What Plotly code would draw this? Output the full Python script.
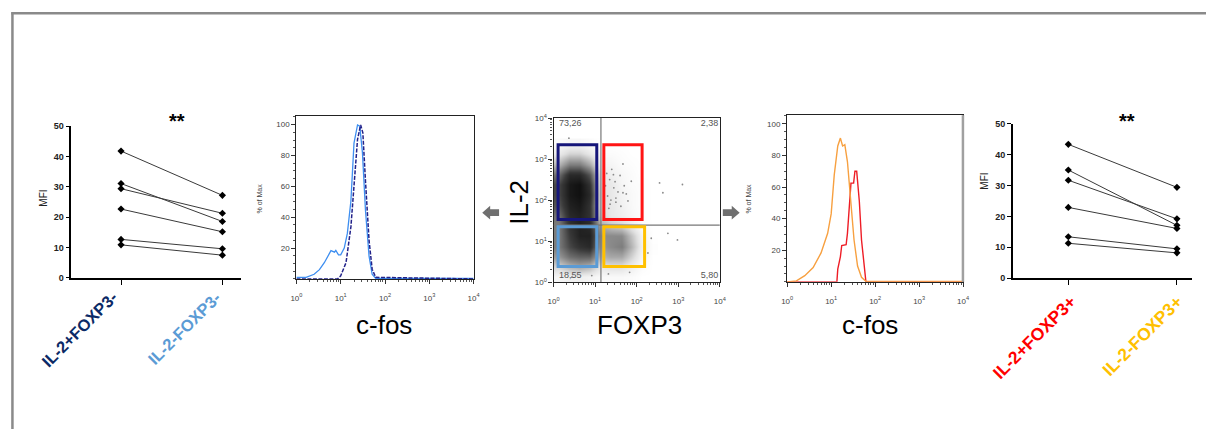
import plotly.graph_objects as go

W, H = 1212, 434


def px(x):
    return x / W


def py(y):
    return 1 - y / H


# ---- paired MFI values (one line per donor) ----
pair_left_cats = ["IL-2+FOXP3-", "IL-2-FOXP3-"]
mfi_il2pos_foxp3neg = [41.8, 31.1, 29.4, 22.7, 12.7, 10.9]
mfi_il2neg_foxp3neg = [27.2, 18.6, 21.3, 15.2, 9.6, 7.5]

pair_right_cats = ["IL-2+FOXP3+", "IL-2-FOXP3+"]
mfi_il2pos_foxp3pos = [43.3, 35.0, 31.7, 22.9, 13.4, 11.3]
mfi_il2neg_foxp3pos = [29.4, 17.1, 19.2, 16.1, 9.5, 8.2]

# ---- c-fos histograms (log10 intensity, % of max) ----
hist_il2neg_foxp3neg_x = [0, 0.22, 0.40, 0.52, 0.63, 0.73, 0.78, 0.86, 0.89, 0.95, 1.0, 1.08,
                          1.15, 1.23, 1.30, 1.38, 1.43, 1.49, 1.56, 1.64, 1.71, 1.79, 4.0]
hist_il2neg_foxp3neg_y = [1, 1, 3, 6, 10.5, 16.4, 18.3, 17.3, 18.5, 15.6, 15.6, 20,
                          29.5, 50.5, 88, 99.8, 99, 82, 44, 14.7, 3, 0.3, 0.3]
hist_il2pos_foxp3neg_x = [0, 0.93, 1.0, 1.12, 1.23, 1.30, 1.38, 1.45, 1.50, 1.56, 1.64, 1.71, 1.79, 4.0]
hist_il2pos_foxp3neg_y = [0, 0, 2, 10.5, 33.7, 63, 90.5, 99.8, 94.7, 63, 25, 6.3, 1, 0]

hist_il2neg_foxp3pos_x = [0, 0.21, 0.40, 0.59, 0.77, 0.92, 1.0, 1.07, 1.15, 1.21, 1.26, 1.31,
                          1.37, 1.45, 1.52, 1.60, 1.69, 1.79, 4.0]
hist_il2neg_foxp3pos_y = [0, 0.6, 3.9, 9, 18.3, 30.7, 43, 67.7, 86, 91, 86, 86.8,
                          76, 51, 26.5, 10, 2.9, 0.3, 0.3]
hist_il2pos_foxp3pos_x = [0, 1.13, 1.15, 1.21, 1.24, 1.34, 1.37, 1.43, 1.45, 1.51, 1.54, 1.58,
                          1.64, 1.69, 1.75, 1.79, 4.0]
hist_il2pos_foxp3pos_y = [0, 0, 8, 16, 23, 23.5, 30.7, 51, 62.5, 62.5, 70, 70,
                          51, 26.5, 8, 0, 0]

# ---- FOXP3 / IL-2 dot plot: event density on a log10 grid ----
dens_x = [0.125, 0.375, 0.625, 0.875, 1.125, 1.375, 1.625, 1.875, 2.125, 2.375]
dens_y = [0.125, 0.375, 0.625, 0.875, 1.125, 1.375, 1.625, 1.875, 2.125, 2.375,
          2.625, 2.875, 3.125, 3.375]
dens_z = [
    [0.05, 0.08, 0.08, 0.06, 0.03, 0.03, 0.03, 0.02, 0.00, 0.00],
    [0.20, 0.30, 0.35, 0.30, 0.12, 0.15, 0.15, 0.08, 0.02, 0.00],
    [0.40, 0.55, 0.60, 0.60, 0.30, 0.35, 0.35, 0.20, 0.05, 0.00],
    [0.50, 0.70, 0.80, 0.85, 0.40, 0.45, 0.50, 0.30, 0.08, 0.01],
    [0.50, 0.75, 0.90, 0.90, 0.45, 0.45, 0.45, 0.25, 0.06, 0.00],
    [0.50, 0.80, 0.90, 0.85, 0.35, 0.25, 0.20, 0.10, 0.02, 0.00],
    [0.55, 0.85, 0.90, 0.80, 0.20, 0.12, 0.08, 0.04, 0.01, 0.00],
    [0.65, 0.90, 0.95, 0.80, 0.15, 0.12, 0.07, 0.03, 0.01, 0.00],
    [0.70, 0.95, 1.00, 0.85, 0.15, 0.12, 0.06, 0.03, 0.01, 0.00],
    [0.70, 0.95, 1.00, 0.80, 0.12, 0.12, 0.05, 0.02, 0.01, 0.00],
    [0.55, 0.85, 0.85, 0.65, 0.10, 0.08, 0.04, 0.02, 0.00, 0.00],
    [0.30, 0.50, 0.50, 0.35, 0.05, 0.05, 0.02, 0.01, 0.00, 0.00],
    [0.10, 0.20, 0.20, 0.12, 0.02, 0.02, 0.01, 0.00, 0.00, 0.00],
    [0.02, 0.04, 0.04, 0.02, 0.00, 0.00, 0.00, 0.00, 0.00, 0.00],
]
# isolated events outside the dense populations
stray_foxp3 = [0.37, 1.67, 2.55, 3.10, 2.63, 1.67, 1.79, 1.44, 1.36, 1.87, 2.75, 2.98, 2.35,
               2.27, 1.83, 1.32, 0.44, 0.92, 1.30, 1.35, 1.45, 1.50, 1.55, 1.60, 1.40, 1.25,
               1.70, 1.50, 1.33, 1.62, 1.28, 1.48, 1.75, 1.38]
stray_il2 = [3.51, 2.88, 2.42, 2.38, 2.18, 2.18, 1.98, 2.62, 1.90, 2.46, 1.19, 1.03, 1.07,
             0.71, 0.24, 0.20, 0.12, 0.16, 2.10, 2.50, 2.30, 1.95, 2.20, 2.60, 2.75, 2.35,
             2.35, 2.05, 1.80, 1.85, 2.65, 2.45, 2.15, 2.00]

# quadrant statistics (%)
quad_labels = ["73,26", "2,38", "18,55", "5,80"]
quad_x = [0.4, 3.75, 0.4, 3.75]
quad_y = [3.85, 3.85, 0.15, 0.15]

# gates: (x0, x1, y0, y1) in log10 units
gate_colors = ["#16167a", "#ff1414", "#5b9bd5", "#ffc000"]
gate_x0 = [0.11, 1.21, 0.11, 1.21]
gate_x1 = [1.04, 2.13, 1.04, 2.19]
gate_y0 = [1.53, 1.53, 0.38, 0.38]
gate_y1 = [3.35, 3.35, 1.35, 1.35]
quad_split_x = 1.14
quad_split_y = 1.39

decade_ticks = [0, 1, 2, 3, 4]
decade_text = ["10<sup>%d</sup>" % d for d in decade_ticks]
minor_log = [d + m for d in range(4) for m in (0.301, 0.477, 0.602, 0.699, 0.778, 0.845, 0.903, 0.954)]

fig = go.Figure()

# left paired plot
for a, b in zip(mfi_il2pos_foxp3neg, mfi_il2neg_foxp3neg):
    fig.add_trace(go.Scatter(x=[0, 1], y=[a, b], mode="lines+markers", xaxis="x", yaxis="y",
                             line=dict(color="#3a3a3a", width=1),
                             marker=dict(symbol="diamond", size=5.5, color="black"),
                             showlegend=False, hoverinfo="skip"))

# histogram 1
fig.add_trace(go.Scatter(x=hist_il2neg_foxp3neg_x, y=hist_il2neg_foxp3neg_y, mode="lines",
                         xaxis="x2", yaxis="y2", line=dict(color="#3d8ef0", width=1.3),
                         showlegend=False, hoverinfo="skip"))
fig.add_trace(go.Scatter(x=hist_il2pos_foxp3neg_x, y=hist_il2pos_foxp3neg_y, mode="lines",
                         xaxis="x2", yaxis="y2",
                         line=dict(color="#22228a", width=1.5, dash="4px,1.5px"),
                         showlegend=False, hoverinfo="skip"))

# dot plot
fig.add_trace(go.Heatmap(x=dens_x, y=dens_y, z=dens_z, xaxis="x3", yaxis="y3", zsmooth="best",
                         zmin=0, zmax=1, showscale=False, hoverinfo="skip",
                         colorscale=[[0, "#ffffff"], [0.15, "#e2e2e2"], [0.45, "#8a8a8a"],
                                     [0.75, "#3a3a3a"], [1, "#111111"]]))
fig.add_trace(go.Scatter(x=stray_foxp3, y=stray_il2, mode="markers", xaxis="x3", yaxis="y3",
                         marker=dict(size=1.8, color="#8a8a8a"), showlegend=False, hoverinfo="skip"))
fig.add_trace(go.Scatter(x=quad_x, y=quad_y, mode="text", text=quad_labels, xaxis="x3", yaxis="y3",
                         textfont=dict(size=9, color="#555555", family="Liberation Sans"),
                         showlegend=False, hoverinfo="skip"))

# histogram 2
fig.add_trace(go.Scatter(x=hist_il2pos_foxp3pos_x, y=hist_il2pos_foxp3pos_y, mode="lines",
                         xaxis="x4", yaxis="y4", line=dict(color="#ee1c25", width=1.4),
                         showlegend=False, hoverinfo="skip"))
fig.add_trace(go.Scatter(x=hist_il2neg_foxp3pos_x, y=hist_il2neg_foxp3pos_y, mode="lines",
                         xaxis="x4", yaxis="y4", line=dict(color="#f7a040", width=1.4),
                         showlegend=False, hoverinfo="skip"))

# right paired plot
for a, b in zip(mfi_il2pos_foxp3pos, mfi_il2neg_foxp3pos):
    fig.add_trace(go.Scatter(x=[0, 1], y=[a, b], mode="lines+markers", xaxis="x5", yaxis="y5",
                             line=dict(color="#3a3a3a", width=1),
                             marker=dict(symbol="diamond", size=5.5, color="black"),
                             showlegend=False, hoverinfo="skip"))

tick_small = dict(size=8, color="#444444", family="Liberation Sans")
pair_tick = dict(size=9, color="#222222", family="Liberation Sans", weight="bold")


def pair_axes(xd, yd, xr, yanchor, xanchor):
    xa = dict(domain=xd, range=xr, showline=True, linecolor="black", linewidth=1.5,
              tickvals=[0, 1], ticktext=["", ""], ticks="outside", ticklen=5,
              tickcolor="black", showgrid=False, zeroline=False, anchor=yanchor)
    ya = dict(domain=yd, range=[0, 50], dtick=10, showline=True, linecolor="black", linewidth=1.5,
              ticks="outside", ticklen=4, tickcolor="black", tickfont=pair_tick,
              showgrid=False, zeroline=False, anchor=xanchor)
    return xa, ya


def log_axes(xd, yd, yr, yanchor, xanchor, ytv, mirror=True):
    xa = dict(domain=xd, range=[0, 4], tickvals=decade_ticks, ticktext=decade_text,
              ticks="outside", ticklen=4, tickcolor="#333333", tickfont=tick_small,
              minor=dict(tickvals=minor_log, ticks="outside", ticklen=2, tickcolor="#555555"),
              showline=True, linecolor="#222222", linewidth=1.3, mirror=mirror,
              showgrid=False, zeroline=False, anchor=yanchor, ticklabelstandoff=7)
    ya = dict(domain=yd, range=yr, tickvals=ytv, ticks="outside", ticklen=4, tickcolor="#333333",
              tickfont=tick_small, showline=True, linecolor="#222222", linewidth=1.3,
              mirror=mirror, showgrid=False, zeroline=False, anchor=xanchor)
    return xa, ya


x1, y1 = pair_axes([px(66), px(237)], [py(279), py(123.3)], [-0.49, 1.18], "y", "x")
x5, y5 = pair_axes([px(1017), px(1198)], [py(279.3), py(120.7)], [-0.51, 1.14], "y5", "x5")
x2, y2 = log_axes([px(293.3), px(472.3)], [py(280), py(112.7)], [0, 105.7], "y2", "x2",
                  [20, 40, 60, 80, 100])
y2["minor"] = dict(dtick=5, ticks="outside", ticklen=2, tickcolor="#555555")
x4, y4 = log_axes([px(789), px(966.7)], [py(283), py(111.7)], [0, 105.7], "y4", "x4",
                  [20, 40, 60, 80, 100])
y4["minor"] = dict(dtick=5, ticks="outside", ticklen=2, tickcolor="#555555")
x3, y3 = log_axes([px(553), px(721)], [py(283.3), py(115)], [0, 4], "y3", "x3", decade_ticks)
y3["ticktext"] = decade_text
y3["minor"] = dict(tickvals=minor_log, ticks="outside", ticklen=2, tickcolor="#555555")

shapes = []
# quadrant split lines
shapes.append(dict(type="line", xref="x3", yref="y3", x0=quad_split_x, x1=quad_split_x, y0=0, y1=4,
                   line=dict(color="#777777", width=1.2)))
shapes.append(dict(type="line", xref="x3", yref="y3", x0=0, x1=4, y0=quad_split_y, y1=quad_split_y,
                   line=dict(color="#777777", width=1.2)))
for c, a0, a1, b0, b1 in zip(gate_colors, gate_x0, gate_x1, gate_y0, gate_y1):
    shapes.append(dict(type="rect", xref="x3", yref="y3", x0=a0, x1=a1, y0=b0, y1=b1,
                       line=dict(color=c, width=3), layer="above"))

# frame around the panel
shapes.append(dict(type="line", xref="paper", yref="paper", x0=px(6.5), x1=px(6.5), y0=0, y1=py(6.5),
                   line=dict(color="#8a8a8a", width=2.5)))
shapes.append(dict(type="line", xref="paper", yref="paper", x0=px(5.3), x1=1, y0=py(7.5), y1=py(7.5),
                   line=dict(color="#8a8a8a", width=2.5)))
# right edge of second histogram
shapes.append(dict(type="line", xref="paper", yref="paper", x0=px(966.5), x1=px(966.5),
                   y0=py(283), y1=py(112), line=dict(color="#a0a0a0", width=2.5)))


def arrow_path(tip_x, tip_y, direction):
    d = direction
    pts = [(tip_x, tip_y), (tip_x + d * 8, tip_y - 7), (tip_x + d * 8, tip_y - 3.5),
           (tip_x + d * 17, tip_y - 3.5), (tip_x + d * 17, tip_y + 3.5),
           (tip_x + d * 8, tip_y + 3.5), (tip_x + d * 8, tip_y + 7)]
    return "M " + " L ".join("%.5f,%.5f" % (px(a), py(b)) for a, b in pts) + " Z"


shapes.append(dict(type="path", xref="paper", yref="paper", path=arrow_path(481, 212, 1),
                   fillcolor="#6f6f6f", line=dict(width=0)))
shapes.append(dict(type="path", xref="paper", yref="paper", path=arrow_path(741, 212, -1),
                   fillcolor="#6f6f6f", line=dict(width=0)))

ann = []


def label(text, x, y, size, color="black", angle=0, xa="center", ya="middle", family="Liberation Sans",
          weight="normal"):
    ann.append(dict(text=text, x=px(x), y=py(y), xref="paper", yref="paper", showarrow=False,
                    xanchor=xa, yanchor=ya, textangle=angle,
                    font=dict(size=size, color=color, family=family, weight=weight)))


label("MFI", 37, 197, 10, color="#222222", angle=-90)
label("MFI", 988, 180, 10, color="#222222", angle=-90)
label("**", 173, 118, 20, weight="bold")
label("**", 1132, 118, 20, weight="bold")
label("% of Max", 256, 197, 7, color="#444444", angle=-90)
label("% of Max", 750, 198, 7, color="#444444", angle=-90)
label("c-fos", 382, 327, 26)
label("c-fos", 873, 327, 26)
label("FOXP3", 640, 327, 26)
label("IL-2", 518, 201, 26, angle=-90)

cat_font = "Liberation Sans"
label("<b>%s</b>" % pair_left_cats[0], 119, 286, 16.5, color="#0b2a66", angle=-45, xa="right",
      ya="top", family=cat_font)
label("<b>%s</b>" % pair_left_cats[1], 223, 287, 16.5, color="#5b9bd5", angle=-45, xa="right",
      ya="top", family=cat_font)
label("<b>%s</b>" % pair_right_cats[0], 1088, 290, 17.5, color="#ff0000", angle=-45, xa="right",
      ya="top", family=cat_font)
label("<b>%s</b>" % pair_right_cats[1], 1195, 290, 17.5, color="#ffc000", angle=-45, xa="right",
      ya="top", family=cat_font)

fig.update_layout(
    width=W, height=H, margin=dict(l=0, r=0, t=0, b=0),
    paper_bgcolor="white", plot_bgcolor="rgba(0,0,0,0)",
    xaxis=x1, yaxis=y1, xaxis2=x2, yaxis2=y2, xaxis3=x3, yaxis3=y3,
    xaxis4=x4, yaxis4=y4, xaxis5=x5, yaxis5=y5,
    shapes=shapes, annotations=ann, showlegend=False,
)

fig.write_html("out.html")
